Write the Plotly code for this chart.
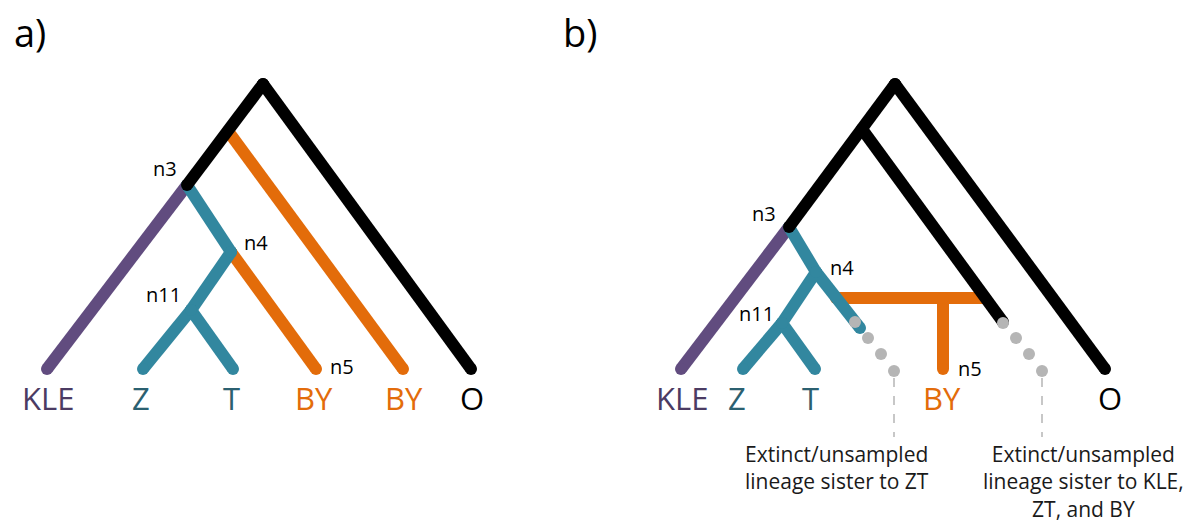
import plotly.graph_objects as go

# ---------------- data: node positions (diagram units, y grows downward) ----------------
NODE_NAMES = ["a_root", "a_n3", "a_n4", "a_n11", "a_KLE", "a_Z", "a_T", "a_n5", "a_BYsplit", "a_BY", "a_O",
              "b_root", "b_n3", "b_n4", "b_n11", "b_KLE", "b_Z", "b_T", "b_inner", "b_ext2",
              "b_ext1", "b_hL", "b_hR", "b_hMid", "b_n5", "b_O"]
NODE_X = [263, 187, 231, 191, 47, 143, 233, 316, 228, 403, 471,
          895, 789, 816, 782, 681, 743, 815, 862, 1003,
          860, 836, 985, 943, 943, 1105]
NODE_Y = [84, 185, 252, 310, 369, 369, 369, 369, 131, 369, 369,
          84, 227, 272, 323, 369, 369, 369, 129, 322,
          328, 298, 298, 298, 369, 369]

# branches (parent, child) grouped by lineage colour
ORANGE_EDGES = [("a_n4", "a_n5"), ("a_BYsplit", "a_BY"),
                ("b_hL", "b_hR"), ("b_hMid", "b_n5")]
PURPLE_EDGES = [("a_n3", "a_KLE"), ("b_n3", "b_KLE")]
TEAL_EDGES = [("a_n3", "a_n4"), ("a_n4", "a_n11"), ("a_n11", "a_Z"), ("a_n11", "a_T"),
              ("b_n3", "b_n4"), ("b_n4", "b_ext1"), ("b_n4", "b_n11"), ("b_n11", "b_Z"), ("b_n11", "b_T")]
BLACK_EDGES = [("a_root", "a_n3"), ("a_root", "a_O"),
               ("b_root", "b_n3"), ("b_root", "b_O"), ("b_inner", "b_ext2")]

# extinct / unsampled dotted continuations
DOTS1_X = [855, 868, 881, 894]
DOTS1_Y = [322, 338, 354, 371]
DOTS2_X = [1003, 1016, 1029, 1042]
DOTS2_Y = [323, 338, 354, 371]
LEADER_END_Y = 437

# tip labels
TIP_TEXT = ["KLE", "Z", "T", "BY", "BY", "O", "KLE", "Z", "T", "BY", "O"]
TIP_X = [48, 141, 231, 314, 404, 472, 682, 737, 810, 942, 1110]
TIP_Y = [398] * 11
TIP_COLOR = ["#4b3b63", "#2b6070", "#2b6070", "#e36c0a", "#e36c0a", "#000000",
             "#4b3b63", "#2b6070", "#2b6070", "#e36c0a", "#000000"]

# node labels
NODE_LBL = ["n3", "n4", "n11", "n5", "n3", "n4", "n11", "n5"]
NODE_LBL_X = [165, 256, 163, 342, 764, 842, 756, 970]
NODE_LBL_Y = [168, 242, 294, 366, 213, 267, 313, 368]

# panel letters
PANEL_TXT = ["a)", "b)"]
PANEL_X = [30, 580]
PANEL_Y = [32, 32]

# extinct lineage notes
NOTE_TXT = ["Extinct/unsampled<br>lineage sister to ZT",
            "Extinct/unsampled<br>lineage sister to KLE,<br>ZT, and BY"]
NOTE_X = [837, 1083]
NOTE_Y = [438, 438]

# ---------------- styling ----------------
C_ORANGE = "#e36c0a"
C_PURPLE = "#614c7f"
C_TEAL = "#32879f"
C_BLACK = "#000000"
C_GREY = "#b5b5b5"
LW = 12
FONT = "Open Sans"

pos = {n: (x, y) for n, x, y in zip(NODE_NAMES, NODE_X, NODE_Y)}

fig = go.Figure()


def add_edges(edges, color):
    xs, ys = [], []
    for a, b in edges:
        xs += [pos[a][0], pos[b][0], None]
        ys += [pos[a][1], pos[b][1], None]
    fig.add_trace(go.Scatter(x=xs, y=ys, mode="lines+markers",
                             line=dict(color=color, width=LW),
                             marker=dict(color=color, size=LW, line=dict(width=0)),
                             hoverinfo="skip", showlegend=False))


add_edges(ORANGE_EDGES, C_ORANGE)
add_edges(PURPLE_EDGES, C_PURPLE)
add_edges(TEAL_EDGES, C_TEAL)
add_edges(BLACK_EDGES, C_BLACK)

# dashed leader lines from last dot down to notes, then grey dots
for dx, dy in [(DOTS1_X, DOTS1_Y), (DOTS2_X, DOTS2_Y)]:
    fig.add_trace(go.Scatter(x=[dx[-1], dx[-1]], y=[dy[-1] + 7, LEADER_END_Y], mode="lines",
                             line=dict(color="#aaaaaa", width=1.3, dash="dash"),
                             hoverinfo="skip", showlegend=False))
    fig.add_trace(go.Scatter(x=dx, y=dy, mode="markers",
                             marker=dict(color=C_GREY, size=12, line=dict(width=0)),
                             hoverinfo="skip", showlegend=False))

ann = []
for t, x, y, c in zip(TIP_TEXT, TIP_X, TIP_Y, TIP_COLOR):
    ann.append(dict(text=t, x=x, y=y, xref="x", yref="y", showarrow=False,
                    font=dict(family=FONT, size=31, color=c)))
for t, x, y in zip(NODE_LBL, NODE_LBL_X, NODE_LBL_Y):
    ann.append(dict(text=t, x=x, y=y, xref="x", yref="y", showarrow=False,
                    font=dict(family=FONT, size=20, color="#000000")))
for t, x, y in zip(PANEL_TXT, PANEL_X, PANEL_Y):
    ann.append(dict(text=t, x=x, y=y, xref="x", yref="y", showarrow=False,
                    font=dict(family=FONT, size=38, color="#000000")))
for t, x, y in zip(NOTE_TXT, NOTE_X, NOTE_Y):
    ann.append(dict(text=t, x=x, y=y, xref="x", yref="y", showarrow=False,
                    yanchor="top", align="center",
                    font=dict(family=FONT, size=21, color="#1a1a1a")))

fig.update_layout(
    width=1190, height=523,
    margin=dict(l=0, r=0, t=0, b=0),
    paper_bgcolor="white", plot_bgcolor="white",
    xaxis=dict(range=[0, 1190], visible=False, fixedrange=True),
    yaxis=dict(range=[523, 0], visible=False, fixedrange=True),
    annotations=ann,
    showlegend=False,
)

fig.write_html("out.html", config={"displayModeBar": False},
               post_script="document.body.style.margin='0px';document.body.style.overflow='hidden';")
